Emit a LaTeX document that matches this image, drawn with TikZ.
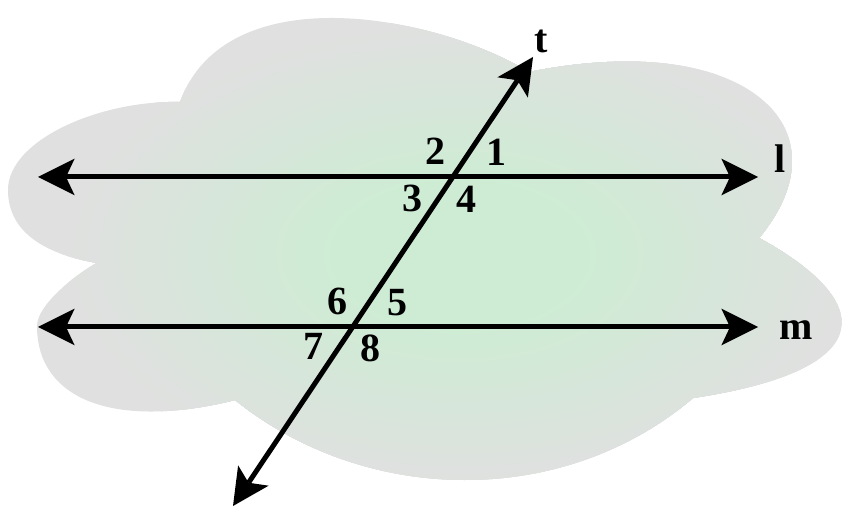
\documentclass[tikz,border=0pt]{standalone}
\usepackage{fontspec}
\setmainfont{Liberation Serif}
\usetikzlibrary{arrows.meta}
\definecolor{cloudgray}{RGB}{224,224,224}
\definecolor{cloudgreen}{RGB}{206,236,212}
\tikzset{
  tipshape/.tip={Stealth[length=27.5pt,width=27.5pt,inset=6.5pt,line width=0pt]},
  lineArrow/.style={line width=3.75pt, draw=black, tipshape-tipshape},
  lbl/.style={font=\fontsize{30}{30}\selectfont\bfseries, inner sep=0pt, anchor=base, text=black},
}
\begin{document}
\begin{tikzpicture}[x=0.75pt,y=-0.75pt]
\fill[white] (0,0) rectangle (856,523);
\useasboundingbox (0,0) rectangle (856,523);
% cloud
\begin{scope}
\clip (180,102) .. controls (225,-22) and (429,12) .. (529,72)
  .. controls (749,28) and (849,130) .. (759,238)
  .. controls (869,298) and (890,368) .. (693,398)
  .. controls (562,509) and (366,505) .. (235,400)
  .. controls (115,430) and (37,400) .. (37,326)
  .. controls (37,305) and (75,275) .. (97,263)
  .. controls (50,255) and (8,235) .. (8,190)
  .. controls (8,140) and (100,100) .. (180,102) -- cycle;
\fill[cloudgray] (0,0) rectangle (856,523);
\foreach \i in {0,...,40}{
  \pgfmathsetmacro\pct{100*\i/40}
  \fill[cloudgreen!\pct!cloudgray] (460,255) ellipse ({400-270*\i/40} and {235-160*\i/40});
}
\end{scope}
% line ends
\coordinate (lL) at (38,177);
\coordinate (lR) at (758,177);
\coordinate (mL) at (38,327);
\coordinate (mR) at (758,327);
\coordinate (tT) at (533,57);
\coordinate (tB) at (233,506);
\draw[lineArrow] (lL) -- (lR);
\draw[lineArrow] (mL) -- (mR);
\draw[lineArrow] (tB) -- (tT);
% labels
\node[lbl] (tlab) at (541,53) {t};
\node[lbl] (llab) at (780,173) {l};
\node[lbl] (mlab) at (796,340) {m};
\node[lbl] (a1) at (496,166) {1};
\node[lbl] (a2) at (435,165) {2};
\node[lbl] (a3) at (412,212) {3};
\node[lbl] (a4) at (466,213) {4};
\node[lbl] (a5) at (397,316) {5};
\node[lbl] (a6) at (337,315) {6};
\node[lbl] (a7) at (313,360) {7};
\node[lbl] (a8) at (370,362) {8};
\end{tikzpicture}
\end{document}
